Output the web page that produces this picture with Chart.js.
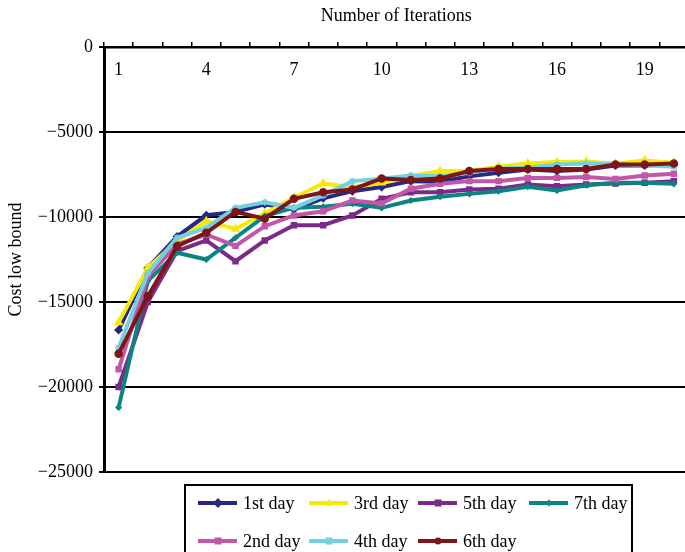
<!DOCTYPE html>
<html>
<head>
<meta charset="utf-8">
<script src="https://cdn.jsdelivr.net/npm/chart.js@4/dist/chart.umd.min.js"></script>
<style>
  html, body { margin: 0; padding: 0; background: #fff; overflow: hidden; }
  #wrap { position: relative; width: 685px; height: 552px; overflow: hidden; }
  #chart { position: absolute; left: 0; top: 0; }
  #legend {
    position: absolute; left: 184px; top: 484px; width: 449px; height: 80px;
    border: 2px solid #000; box-sizing: border-box;
    font-family: "Liberation Serif", "Times New Roman", serif; font-size: 18px; color: #000;
  }
  .item { position: absolute; height: 22px; display: flex; align-items: center; white-space: nowrap; }
  .swatch { position: relative; width: 39px; height: 4px; margin-right: 6px; }
  .mk { position: absolute; left: 50%; top: 50%; }
</style>
</head>
<body>
<div id="wrap">
  <canvas id="chart" width="694" height="552"></canvas>
  <div id="legend"></div>
</div>
<script>
// Iteration numbers along the top axis
const iterations = [1, 2, 3, 4, 5, 6, 7, 8, 9, 10, 11, 12, 13, 14, 15, 16, 17, 18, 19, 20];
const shownIterationLabels = [1, 4, 7, 10, 13, 16, 19];
const costTicks = [0, -5000, -10000, -15000, -20000, -25000];

// Cost low bound per iteration, one list per day
const day1 = [-16650, -13000, -11150, -9900, -9700, -9250, -9550, -8900, -8480, -8240, -7890, -7930, -7600, -7400, -7200, -7300, -7200, -6970, -6970, -6900];
const day2 = [-18960, -13500, -11600, -11030, -11700, -10540, -9910, -9660, -9030, -9200, -8340, -8050, -7890, -7890, -7700, -7700, -7650, -7760, -7560, -7460];
const day3 = [-16200, -12990, -11420, -10250, -10700, -9800, -8870, -8030, -8250, -7990, -7600, -7300, -7300, -7050, -6850, -6770, -6740, -6850, -6680, -6810];
const day4 = [-17690, -13300, -11225, -10640, -9460, -9130, -9460, -8730, -7890, -7750, -7560, -7600, -7400, -7150, -7100, -6910, -6850, -6900, -6950, -7050];
const day5 = [-20000, -15000, -12000, -11380, -12600, -11380, -10480, -10480, -9910, -8930, -8540, -8540, -8380, -8340, -8090, -8190, -8090, -8030, -7990, -7890];
const day6 = [-18040, -14660, -11720, -10930, -9700, -10100, -8930, -8540, -8380, -7730, -7830, -7730, -7300, -7170, -7170, -7170, -7170, -6910, -6910, -6850];
const day7 = [-21200, -13760, -12100, -12500, -11220, -9950, -9450, -9400, -9220, -9460, -9030, -8810, -8640, -8480, -8220, -8440, -8130, -7990, -7990, -8050];

// Series in legend order (row by row)
const seriesNames = ['1st day', '3rd day', '5th day', '7th day', '2nd day', '4th day', '6th day'];
const seriesData = [day1, day3, day5, day7, day2, day4, day6];
const seriesColors = ['#28287e', '#f6ea00', '#7b2b87', '#0b8483', '#c157a8', '#74cfe1', '#7e1518'];
const seriesMarkers = ['rectRot', 'triangle', 'rect', 'rectRot', 'rect', 'star', 'circle'];
const markerSizes = [3.5, 4, 3.5, 2.5, 3.5, 3.5, 3.5];

const serif = '"Liberation Serif", "Times New Roman", serif';

const datasets = seriesNames.map((name, i) => ({
  label: name,
  data: seriesData[i],
  borderColor: seriesColors[i],
  backgroundColor: seriesColors[i],
  borderWidth: 4,
  pointStyle: seriesMarkers[i],
  pointRadius: markerSizes[i],
  pointBorderWidth: 1.5,
  pointBackgroundColor: seriesColors[i],
  pointBorderColor: seriesColors[i],
  tension: 0,
  order: -i
}));

new Chart(document.getElementById('chart'), {
  type: 'line',
  data: { labels: iterations, datasets },
  options: {
    responsive: false,
    animation: false,
    devicePixelRatio: 1,
    layout: { padding: { top: 0, left: 0, right: 0, bottom: 80 } },
    plugins: { legend: { display: false }, tooltip: { enabled: false } },
    scales: {
      x: {
        type: 'category',
        position: 'top',
        offset: true,
        grid: { display: true, drawOnChartArea: false, offset: true, tickLength: 5, color: '#000', lineWidth: 1.5 },
        border: { display: true, color: '#000', width: 2.5 },
        ticks: {
          autoSkip: false, maxRotation: 0, minRotation: 0,
          mirror: true, padding: 12,
          color: '#000', font: { family: serif, size: 18 },
          callback: function (v, idx) {
            const lab = iterations[idx];
            return shownIterationLabels.includes(lab) ? String(lab) : '';
          }
        },
        title: { display: true, text: 'Number of Iterations', color: '#000', font: { family: serif, size: 18 }, padding: { top: 5, bottom: 0 } },
        afterFit: s => { s.height = 47; }
      },
      y: {
        min: -25000, max: 0,
        afterBuildTicks: s => { s.ticks = costTicks.map(v => ({ value: v })); },
        grid: { color: '#000', lineWidth: 2, tickLength: 5 },
        border: { display: true, color: '#000', width: 3 },
        ticks: {
          padding: 6, color: '#000', font: { family: serif, size: 18 },
          callback: v => v === 0 ? '0' : '\u2212' + Math.abs(v)
        },
        title: { display: true, text: 'Cost low bound', color: '#000', font: { family: serif, size: 18 }, padding: { top: 5, bottom: 0 } },
        afterFit: s => { s.width = 104; }
      }
    }
  }
});

// Boxed legend: four columns, two rows
(function buildLegend() {
  const box = document.getElementById('legend');
  const colX = [12, 123, 232, 343];
  const rowY = [6, 44];
  seriesNames.forEach((name, i) => {
    const col = i % 4, row = Math.floor(i / 4);
    const item = document.createElement('div');
    item.className = 'item';
    item.style.left = colX[col] + 'px';
    item.style.top = rowY[row] + 'px';
    const sw = document.createElement('div');
    sw.className = 'swatch';
    sw.style.background = seriesColors[i];
    const mk = document.createElement('div');
    mk.className = 'mk';
    const m = seriesMarkers[i];
    if (m === 'triangle') {
      mk.style.width = '0'; mk.style.height = '0';
      mk.style.borderLeft = '4px solid transparent';
      mk.style.borderRight = '4px solid transparent';
      mk.style.borderBottom = '7px solid ' + seriesColors[i];
      mk.style.transform = 'translate(-50%, -60%)';
    } else {
      const s = (i === 3) ? 5 : 7;
      mk.style.width = s + 'px'; mk.style.height = s + 'px';
      mk.style.background = seriesColors[i];
      if (m === 'circle') mk.style.borderRadius = '50%';
      mk.style.transform = 'translate(-50%, -50%)' + (m === 'rectRot' ? ' rotate(45deg)' : '');
    }
    sw.appendChild(mk);
    const tx = document.createElement('span');
    tx.textContent = name;
    item.appendChild(sw);
    item.appendChild(tx);
    box.appendChild(item);
  });
})();
</script>
</body>
</html>
